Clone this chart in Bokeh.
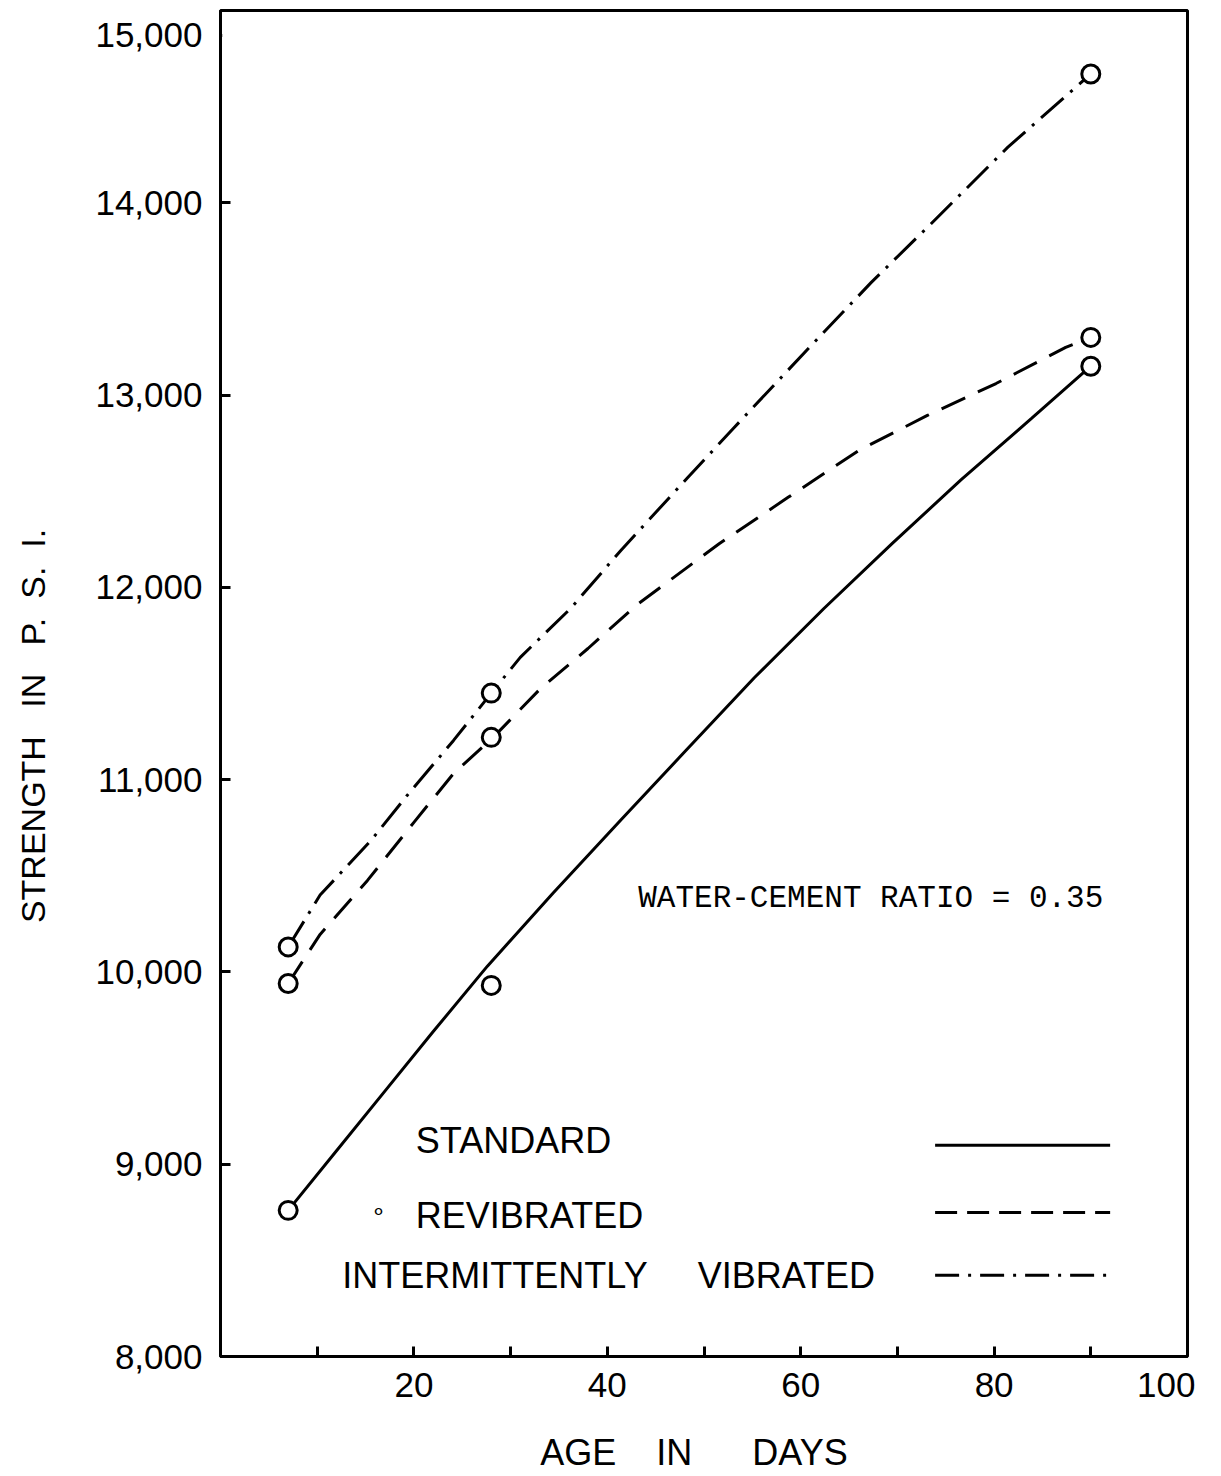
from bokeh.plotting import figure
from bokeh.models import (Range1d, FixedTicker, NumeralTickFormatter, Label, Arrow, BoxAnnotation)
from bokeh.embed import file_html
from bokeh.resources import INLINE

# ---------------- data ----------------
ages = [7, 28, 90]
standard_pts = [8760, 9930, 13150]
revibrated_pts = [9940, 11220, 13300]
intermittent_pts = [10130, 11450, 14670]

# drawn (faired) curves
std_curve_x = [7, 12, 17, 22, 27.6, 34.4, 41.4, 48.1, 55.2, 62.4, 69.5, 76.6, 83.9, 90]
std_curve_y = [8760, 9070, 9380, 9690, 10030, 10410, 10790, 11150, 11530, 11890, 12230, 12560, 12880, 13150]

rev_curve_x = [7, 10.3, 15.2, 20.0, 24.1, 28.2, 33.1, 38.0, 43.1, 51.6, 58.7, 66.0, 73.1, 80.2, 87.4, 90]
rev_curve_y = [9940, 10195, 10476, 10778, 11032, 11220, 11474, 11682, 11911, 12228, 12468, 12712, 12894, 13060, 13248, 13300]

int_curve_x = [7, 10.3, 15.5, 19.3, 24.1, 28, 31.0, 36.2, 41.4, 48.3, 53.1, 60.9, 67.3, 73.1, 81.4, 90]
int_curve_y = [10130, 10400, 10680, 10918, 11204, 11450, 11636, 11890, 12192, 12570, 12830, 13248, 13586, 13872, 14288, 14670]

x_ticks = [10, 20, 30, 40, 50, 60, 70, 80, 90]
x_tick_labels = {10: "", 20: "20", 30: "", 40: "40", 50: "", 60: "60", 70: "", 80: "80", 90: ""}
y_ticks = [8000, 9000, 10000, 11000, 12000, 13000, 14000]
corner_x_label = "100"
corner_y_label = "15,000"

NB = "\u00a0"
legend_names = ["STANDARD", "REVIBRATED", "INTERMITTENTLY" + NB * 5 + "VIBRATED"]
note_text = "WATER-CEMENT RATIO = 0.35"
x_title = "AGE" + NB * 4 + "IN" + NB * 6 + "DAYS" + NB * 2
y_title = "STRENGTH" + NB * 3 + "IN" + NB * 3 + "P." + NB * 2 + "S." + NB * 2 + "I." + NB * 9

# ---------------- styling / layout ----------------
FONT = "Liberation Sans"
W, H = 1215, 1476

p = figure(width=W, height=H, output_backend="svg", toolbar_location=None,
           x_range=Range1d(0, 100), y_range=Range1d(8000, 15000),
           min_border_left=220, min_border_right=W - 1187, min_border_top=10,
           min_border_bottom=H - 1356)
p.background_fill_color = "white"
p.border_fill_color = "white"
p.grid.visible = False
p.outline_line_color = "black"
p.outline_line_width = 3

for ax in (p.xaxis[0], p.yaxis[0]):
    ax.axis_line_color = "black"
    ax.axis_line_width = 3
    ax.major_tick_line_color = "black"
    ax.major_tick_line_width = 3
    ax.major_tick_in = 10
    ax.major_tick_out = 0
    ax.minor_tick_line_color = None
    ax.major_label_text_font = FONT
    ax.major_label_text_font_size = "35px"
    ax.major_label_text_color = "black"
    ax.axis_label_text_font = FONT
    ax.axis_label_text_font_style = "normal"
    ax.axis_label_text_color = "black"

# the corner labels ("100", "15,000") sit a little inside the corner in the original
x_corner = 97.8
y_corner = 14870
xl = dict(x_tick_labels)
xl[x_corner] = corner_x_label
p.xaxis.ticker = FixedTicker(ticks=x_ticks + [x_corner])
p.xaxis.major_label_overrides = xl
p.xaxis.major_label_standoff = 16
p.xaxis.axis_label = x_title
p.xaxis.axis_label_text_font_size = "36px"
p.xaxis.axis_label_standoff = 32

p.yaxis.ticker = FixedTicker(ticks=y_ticks + [y_corner])
p.yaxis.formatter = NumeralTickFormatter(format="0,0")
p.yaxis.major_label_overrides = {y_corner: corner_y_label}
p.yaxis.major_label_standoff = 18
p.yaxis.axis_label = y_title
p.yaxis.axis_label_text_font_size = "34px"
p.yaxis.axis_label_standoff = 40

# hide the tick marks that only carry the shifted corner labels
p.add_layout(BoxAnnotation(left=0.18, right=1.7, bottom=14800, top=14940,
                           fill_color="white", fill_alpha=1, line_color=None))
p.add_layout(BoxAnnotation(left=97.1, right=98.5, bottom=8008, top=8080,
                           fill_color="white", fill_alpha=1, line_color=None))

# curves
p.line(std_curve_x, std_curve_y, line_color="black", line_width=3)
p.line(rev_curve_x, rev_curve_y, line_color="black", line_width=3, line_dash="26 14")
p.line(int_curve_x, int_curve_y, line_color="black", line_width=3, line_dash="30 9 3 9")

# test points
for ys in (standard_pts, revibrated_pts, intermittent_pts):
    p.scatter(ages, ys, marker="circle", size=18, line_color="black", line_width=3,
              fill_color="white")

# note
p.add_layout(Label(x=43.2, y=10382, text=note_text, text_baseline="middle",
                   text_font="Liberation Mono", text_font_size="31px", text_color="black"))

# legend (text left, line sample right)
leg_text_x = [20.2, 20.2, 12.6]
leg_y = [9124, 8734, 8422]
for name, lx, ly in zip(legend_names, leg_text_x, leg_y):
    p.add_layout(Label(x=lx, y=ly, text=name, text_baseline="middle", text_font=FONT,
                       text_font_size="36px", text_color="black"))
p.add_layout(Label(x=16.3, y=8760, text="∘", text_align="center", text_baseline="middle",
                   text_font=FONT, text_font_size="24px", text_color="black"))

sample_y = [9098, 8749, 8422]
sample_dash = ["solid", "22 10", "24 9 3 9"]
for sy, dash in zip(sample_y, sample_dash):
    p.add_layout(Arrow(end=None, x_start=73.9, x_end=92.0, y_start=sy, y_end=sy,
                       line_color="black", line_width=3, line_dash=dash))

open("out.html", "w").write(file_html(p, INLINE))
